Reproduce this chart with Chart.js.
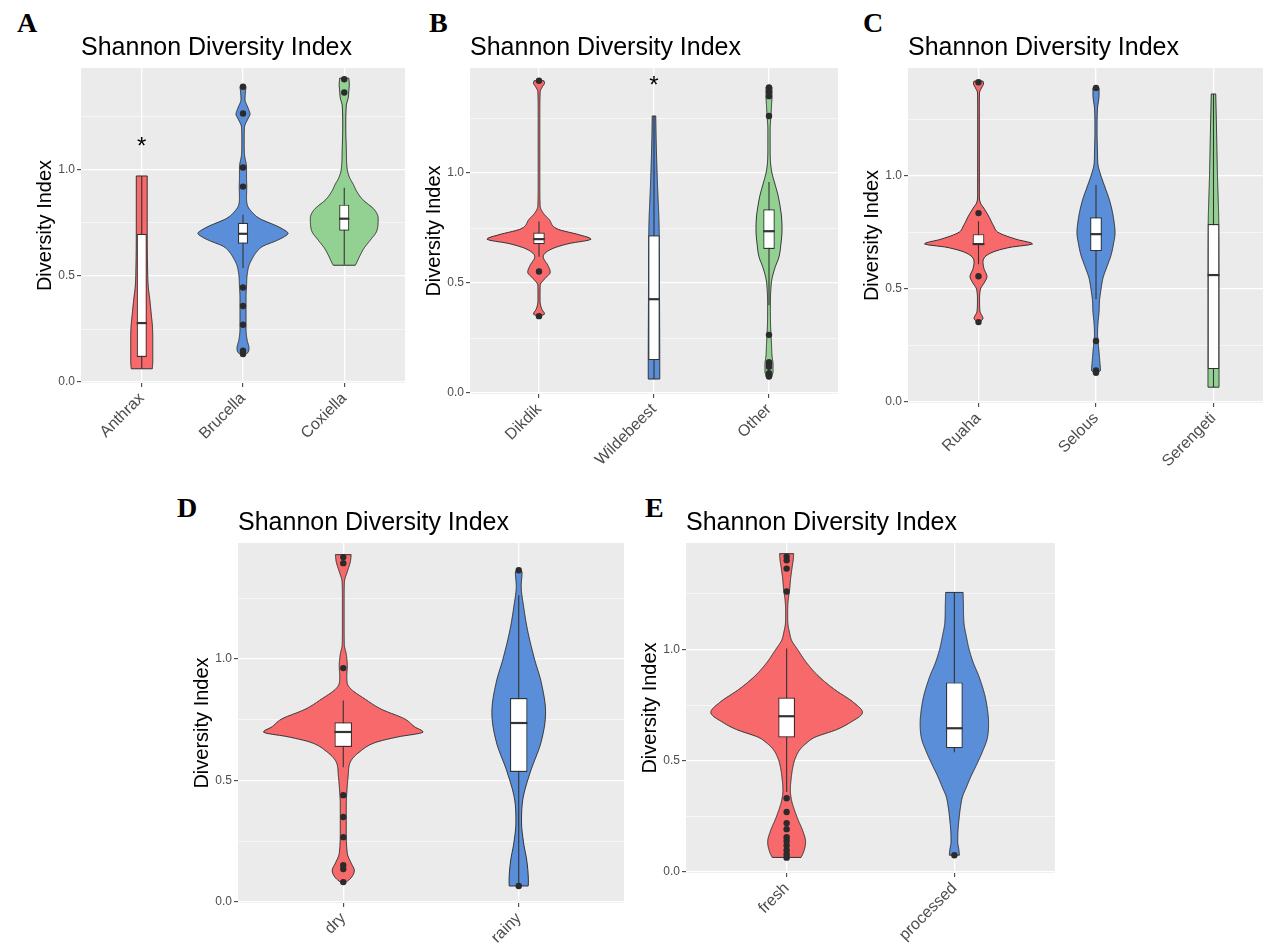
<!DOCTYPE html>
<html lang="en">
<head>
<meta charset="UTF-8">
<title>Shannon Diversity Index</title>
<script src="https://cdn.jsdelivr.net/npm/chart.js"></script>
<style>
    html, body { margin: 0; padding: 0; background: #fff; overflow: hidden; }
    body { width: 1263px; height: 947px; position: relative; }
    .tag {
        position: absolute;
        font-family: 'Liberation Serif', 'Times New Roman', serif;
        font-weight: bold;
        font-size: 28px;
        line-height: 1;
        color: #000;
    }
</style>
</head>
<body>
<div class="tag" style="left:17px;top:9px">A</div>
<div class="tag" style="left:429px;top:9px">B</div>
<div class="tag" style="left:863px;top:9px">C</div>
<div class="tag" style="left:177px;top:494px">D</div>
<div class="tag" style="left:645px;top:494px">E</div>
<script>
// ---------- data ----------
const Y_MAJOR = [0, 0.5, 1.0];
const Y_GRID = [0, 0.25, 0.5, 0.75, 1.0, 1.25];

// A: pathogen
const A_CATEGORIES = ['Anthrax', 'Brucella', 'Coxiella'];
const A_VIOLIN_Y = [
    [0.063, 0.10, 0.15, 0.20, 0.26, 0.32, 0.39, 0.45, 0.55, 0.70, 0.85, 0.97],
    [0.13, 0.14, 0.16, 0.20, 0.25, 0.30, 0.35, 0.40, 0.45, 0.50, 0.55, 0.58, 0.61, 0.64, 0.665, 0.685, 0.70, 0.715, 0.736, 0.77, 0.80, 0.83, 0.87, 0.92, 0.96, 1.01, 1.07, 1.13, 1.20, 1.24, 1.26, 1.29, 1.33, 1.37, 1.39],
    [0.55, 0.56, 0.60, 0.63, 0.67, 0.71, 0.77, 0.81, 0.86, 0.90, 0.93, 0.96, 1.00, 1.10, 1.20, 1.30, 1.34, 1.37, 1.40, 1.43]
];
const A_VIOLIN_W = [
    [0.104, 0.109, 0.109, 0.109, 0.106, 0.094, 0.079, 0.064, 0.057, 0.054, 0.054, 0.054],
    [0.020, 0.050, 0.059, 0.040, 0.030, 0.030, 0.030, 0.030, 0.035, 0.040, 0.060, 0.090, 0.130, 0.198, 0.327, 0.410, 0.446, 0.410, 0.327, 0.163, 0.089, 0.045, 0.035, 0.037, 0.035, 0.035, 0.015, 0.012, 0.015, 0.050, 0.069, 0.050, 0.020, 0.025, 0.030],
    [0.109, 0.120, 0.160, 0.195, 0.260, 0.320, 0.335, 0.300, 0.180, 0.120, 0.090, 0.055, 0.030, 0.020, 0.015, 0.020, 0.040, 0.045, 0.050, 0.045]
];
const A_WHISKER_LOW = [0.063, 0.537, 0.552];
const A_Q1 = [0.118, 0.651, 0.712];
const A_MEDIAN = [0.278, 0.698, 0.769];
const A_Q3 = [0.698, 0.750, 0.835];
const A_WHISKER_HIGH = [0.97, 0.788, 0.915];
const A_OUTLIERS = [[], [1.39, 1.264, 1.01, 0.92, 0.445, 0.358, 0.27, 0.148, 0.132], [1.425, 1.363]];
const A_STARS = [1.13, null, null];

// B: host
const B_CATEGORIES = ['Dikdik', 'Wildebeest', 'Other'];
const B_VIOLIN_Y = [
    [0.35, 0.36, 0.38, 0.42, 0.49, 0.52, 0.55, 0.58, 0.62, 0.655, 0.68, 0.70, 0.72, 0.745, 0.79, 0.82, 0.85, 0.95, 1.10, 1.25, 1.37, 1.39, 1.41, 1.42],
    [0.064, 0.15, 0.45, 0.72, 0.97, 1.12, 1.26],
    [0.075, 0.10, 0.13, 0.17, 0.22, 0.27, 0.32, 0.40, 0.48, 0.52, 0.57, 0.62, 0.68, 0.74, 0.80, 0.85, 0.90, 0.95, 1.00, 1.05, 1.12, 1.20, 1.26, 1.31, 1.35, 1.39]
];
const B_VIOLIN_W = [
    [0.013, 0.048, 0.026, 0.009, 0.010, 0.050, 0.098, 0.078, 0.037, 0.109, 0.261, 0.452, 0.348, 0.165, 0.087, 0.035, 0.010, 0.007, 0.007, 0.007, 0.010, 0.026, 0.048, 0.043],
    [0.050, 0.050, 0.048, 0.046, 0.029, 0.020, 0.015],
    [0.026, 0.035, 0.035, 0.026, 0.022, 0.017, 0.013, 0.012, 0.017, 0.026, 0.052, 0.087, 0.104, 0.113, 0.109, 0.096, 0.078, 0.052, 0.026, 0.013, 0.010, 0.010, 0.017, 0.022, 0.026, 0.026]
];
const B_WHISKER_LOW = [0.62, 0.064, 0.40];
const B_Q1 = [0.677, 0.15, 0.655];
const B_MEDIAN = [0.70, 0.427, 0.736];
const B_Q3 = [0.73, 0.718, 0.836];
const B_WHISKER_HIGH = [0.78, 1.26, 0.96];
const B_OUTLIERS = [[1.42, 0.553, 0.35], [], [1.39, 1.37, 1.35, 1.26, 0.265, 0.14, 0.13, 0.12, 0.09, 0.075]];
const B_STARS = [null, 1.42, null];

// C: park
const C_CATEGORIES = ['Ruaha', 'Selous', 'Serengeti'];
const C_VIOLIN_Y = [
    [0.355, 0.37, 0.40, 0.45, 0.50, 0.53, 0.555, 0.59, 0.62, 0.66, 0.685, 0.70, 0.72, 0.75, 0.78, 0.82, 0.86, 0.88, 0.92, 1.10, 1.30, 1.37, 1.39, 1.41, 1.42],
    [0.13, 0.14, 0.17, 0.22, 0.27, 0.30, 0.35, 0.40, 0.45, 0.50, 0.55, 0.60, 0.65, 0.70, 0.75, 0.80, 0.85, 0.90, 0.95, 1.00, 1.05, 1.10, 1.20, 1.30, 1.36, 1.39],
    [0.066, 0.146, 0.50, 0.79, 1.0, 1.20, 1.363]
];
const C_VIOLIN_W = [
    [0.013, 0.038, 0.013, 0.009, 0.017, 0.051, 0.072, 0.047, 0.038, 0.106, 0.272, 0.460, 0.323, 0.170, 0.128, 0.089, 0.043, 0.017, 0.007, 0.007, 0.007, 0.009, 0.026, 0.043, 0.038],
    [0.017, 0.038, 0.034, 0.026, 0.017, 0.013, 0.017, 0.026, 0.030, 0.043, 0.060, 0.094, 0.128, 0.149, 0.162, 0.153, 0.136, 0.111, 0.077, 0.043, 0.017, 0.013, 0.009, 0.013, 0.026, 0.026],
    [0.047, 0.047, 0.047, 0.045, 0.034, 0.026, 0.019]
];
const C_WHISKER_LOW = [0.61, 0.456, 0.066];
const C_Q1 = [0.695, 0.667, 0.146];
const C_MEDIAN = [0.699, 0.743, 0.562];
const C_Q3 = [0.743, 0.818, 0.788];
const C_WHISKER_HIGH = [0.80, 0.96, 1.363];
const C_OUTLIERS = [[1.415, 0.836, 0.557, 0.354], [1.39, 0.27, 0.14, 0.13], []];
const C_STARS = [null, null, null];

// D: season
const D_CATEGORIES = ['dry', 'rainy'];
const D_VIOLIN_Y = [
    [0.082, 0.10, 0.13, 0.16, 0.20, 0.30, 0.40, 0.45, 0.52, 0.576, 0.617, 0.658, 0.68, 0.70, 0.72, 0.753, 0.794, 0.835, 0.876, 0.90, 0.93, 0.97, 1.02, 1.06, 1.15, 1.25, 1.32, 1.36, 1.40, 1.43],
    [0.066, 0.082, 0.165, 0.247, 0.33, 0.425, 0.535, 0.66, 0.78, 0.905, 1.00, 1.12, 1.22, 1.30, 1.358, 1.366]
];
const D_VIOLIN_W = [
    [0.017, 0.045, 0.063, 0.045, 0.023, 0.017, 0.017, 0.020, 0.028, 0.040, 0.091, 0.188, 0.313, 0.455, 0.409, 0.352, 0.216, 0.125, 0.045, 0.023, 0.020, 0.023, 0.017, 0.006, 0.005, 0.005, 0.007, 0.023, 0.040, 0.045],
    [0.054, 0.055, 0.047, 0.027, 0.016, 0.024, 0.066, 0.128, 0.153, 0.128, 0.090, 0.050, 0.027, 0.014, 0.019, 0.011]
];
const D_WHISKER_LOW = [0.555, 0.066];
const D_Q1 = [0.638, 0.535];
const D_MEDIAN = [0.70, 0.737];
const D_Q3 = [0.74, 0.84];
const D_WHISKER_HIGH = [0.83, 1.263];
const D_OUTLIERS = [[1.42, 1.395, 0.963, 0.44, 0.35, 0.267, 0.152, 0.136, 0.082], [1.366, 0.066]];
const D_STARS = [null, null];

// E: sample state
const E_CATEGORIES = ['fresh', 'processed'];
const E_VIOLIN_Y = [
    [0.066, 0.09, 0.135, 0.19, 0.23, 0.28, 0.32, 0.37, 0.42, 0.475, 0.51, 0.55, 0.58, 0.605, 0.64, 0.67, 0.717, 0.762, 0.82, 0.88, 0.94, 1.00, 1.04, 1.076, 1.12, 1.17, 1.22, 1.27, 1.32, 1.37, 1.40, 1.43],
    [0.076, 0.10, 0.135, 0.18, 0.24, 0.29, 0.34, 0.38, 0.43, 0.48, 0.54, 0.60, 0.67, 0.72, 0.79, 0.88, 0.94, 1.00, 1.06, 1.12, 1.20, 1.256]
];
const E_VIOLIN_W = [
    [0.086, 0.101, 0.113, 0.094, 0.071, 0.046, 0.030, 0.022, 0.027, 0.038, 0.051, 0.079, 0.119, 0.167, 0.298, 0.375, 0.452, 0.399, 0.286, 0.190, 0.119, 0.065, 0.030, 0.017, 0.007, 0.006, 0.009, 0.018, 0.024, 0.033, 0.039, 0.042],
    [0.030, 0.027, 0.020, 0.021, 0.028, 0.036, 0.049, 0.071, 0.099, 0.131, 0.167, 0.196, 0.204, 0.199, 0.183, 0.146, 0.113, 0.088, 0.071, 0.057, 0.054, 0.052]
];
const E_WHISKER_LOW = [0.36, 0.538];
const E_Q1 = [0.605, 0.556];
const E_MEDIAN = [0.70, 0.646];
const E_Q3 = [0.784, 0.852];
const E_WHISKER_HIGH = [1.004, 1.256];
const E_OUTLIERS = [[1.417, 1.40, 1.363, 1.26, 0.332, 0.27, 0.22, 0.193, 0.157, 0.14, 0.12, 0.098, 0.08, 0.065], [0.076]];
const E_STARS = [null, null];

// ---------- styles ----------
const FONT = "'Liberation Sans', Arial, sans-serif";
const RED = '#F8696B', BLUE = '#5B8ED8', GREEN = '#93D192';
const PANEL_BG = '#EBEBEB';
const LINE = '#333333';
const TICK_TEXT = '#4D4D4D';
const Y_MIN = -0.004, Y_MAX = 1.478;

// plot area of every panel, in page pixels
const PANELS = [
    { id: 'A', area: { l: 81, t: 68, r: 405, b: 383 }, cats: A_CATEGORIES, vy: A_VIOLIN_Y, vw: A_VIOLIN_W,
      lo: A_WHISKER_LOW, q1: A_Q1, med: A_MEDIAN, q3: A_Q3, hi: A_WHISKER_HIGH, outliers: A_OUTLIERS, stars: A_STARS,
      colors: [RED, BLUE, GREEN] },
    { id: 'B', area: { l: 470, t: 68, r: 838, b: 394 }, cats: B_CATEGORIES, vy: B_VIOLIN_Y, vw: B_VIOLIN_W,
      lo: B_WHISKER_LOW, q1: B_Q1, med: B_MEDIAN, q3: B_Q3, hi: B_WHISKER_HIGH, outliers: B_OUTLIERS, stars: B_STARS,
      colors: [RED, BLUE, GREEN] },
    { id: 'C', area: { l: 908, t: 68, r: 1284, b: 403 }, cats: C_CATEGORIES, vy: C_VIOLIN_Y, vw: C_VIOLIN_W,
      lo: C_WHISKER_LOW, q1: C_Q1, med: C_MEDIAN, q3: C_Q3, hi: C_WHISKER_HIGH, outliers: C_OUTLIERS, stars: C_STARS,
      colors: [RED, BLUE, GREEN] },
    { id: 'D', area: { l: 238, t: 543, r: 624, b: 903 }, cats: D_CATEGORIES, vy: D_VIOLIN_Y, vw: D_VIOLIN_W,
      lo: D_WHISKER_LOW, q1: D_Q1, med: D_MEDIAN, q3: D_Q3, hi: D_WHISKER_HIGH, outliers: D_OUTLIERS, stars: D_STARS,
      colors: [RED, BLUE] },
    { id: 'E', area: { l: 686, t: 543, r: 1055, b: 873 }, cats: E_CATEGORIES, vy: E_VIOLIN_Y, vw: E_VIOLIN_W,
      lo: E_WHISKER_LOW, q1: E_Q1, med: E_MEDIAN, q3: E_Q3, hi: E_WHISKER_HIGH, outliers: E_OUTLIERS, stars: E_STARS,
      colors: [RED, BLUE] }
];

// monotone cubic through the read widths so the outline stays smooth without overshoot
function monotone(xs, ys) {
    const n = xs.length, d = [], m = [];
    for (let i = 0; i < n - 1; i++) d[i] = (ys[i + 1] - ys[i]) / (xs[i + 1] - xs[i]);
    m[0] = d[0]; m[n - 1] = d[n - 2];
    for (let i = 1; i < n - 1; i++) m[i] = d[i - 1] * d[i] <= 0 ? 0 : (d[i - 1] + d[i]) / 2;
    for (let i = 0; i < n - 1; i++) {
        if (d[i] === 0) { m[i] = 0; m[i + 1] = 0; continue; }
        const a = m[i] / d[i], b = m[i + 1] / d[i], s = a * a + b * b;
        if (s > 9) { const t = 3 / Math.sqrt(s); m[i] = t * a * d[i]; m[i + 1] = t * b * d[i]; }
    }
    return function (x) {
        let i = 0;
        while (i < n - 2 && x > xs[i + 1]) i++;
        const h = xs[i + 1] - xs[i], t = (x - xs[i]) / h;
        const t2 = t * t, t3 = t2 * t;
        return (2 * t3 - 3 * t2 + 1) * ys[i] + (t3 - 2 * t2 + t) * h * m[i]
            + (-2 * t3 + 3 * t2) * ys[i + 1] + (t3 - t2) * h * m[i + 1];
    };
}

function drawViolin(ctx, xScale, yScale, cx, vy, vw, fill) {
    const f = monotone(vy, vw);
    const y0 = vy[0], y1 = vy[vy.length - 1];
    const steps = Math.max(8, Math.ceil(yScale.getPixelForValue(y0) - yScale.getPixelForValue(y1)));
    const right = [], left = [];
    for (let k = 0; k <= steps; k++) {
        const v = y0 + (y1 - y0) * k / steps;
        const w = Math.max(f(v), 0.004);
        const py = yScale.getPixelForValue(v);
        right.push([xScale.getPixelForValue(cx + w), py]);
        left.push([xScale.getPixelForValue(cx - w), py]);
    }
    ctx.beginPath();
    ctx.moveTo(right[0][0], right[0][1]);
    right.forEach(pt => ctx.lineTo(pt[0], pt[1]));
    for (let k = left.length - 1; k >= 0; k--) ctx.lineTo(left[k][0], left[k][1]);
    ctx.closePath();
    ctx.fillStyle = fill;
    ctx.fill();
    ctx.lineWidth = 1;
    ctx.lineJoin = 'round';
    ctx.strokeStyle = LINE;
    ctx.stroke();
}

function violinPlugin(p) {
    return {
        id: 'violin' + p.id,
        beforeDraw(chart) {
            const { ctx, chartArea: a } = chart;
            ctx.save();
            ctx.fillStyle = PANEL_BG;
            ctx.fillRect(a.left, a.top, a.right - a.left, a.bottom - a.top);
            ctx.restore();
        },
        beforeDatasetsDraw(chart) {
            const { ctx, chartArea: a, scales: { x, y } } = chart;
            ctx.save();
            ctx.beginPath();
            ctx.rect(a.left, a.top, a.right - a.left, a.bottom - a.top);
            ctx.clip();
            p.cats.forEach((c, i) => drawViolin(ctx, x, y, i + 1, p.vy[i], p.vw[i], p.colors[i]));
            // whiskers, later covered by the box
            ctx.strokeStyle = LINE;
            ctx.lineWidth = 1.1;
            p.cats.forEach((c, i) => {
                const px = x.getPixelForValue(i + 1);
                ctx.beginPath();
                ctx.moveTo(px, y.getPixelForValue(p.lo[i]));
                ctx.lineTo(px, y.getPixelForValue(p.hi[i]));
                ctx.stroke();
            });
            ctx.restore();
        },
        afterDatasetDraw(chart, args) {
            if (args.meta.type !== 'bar') return;
            const { ctx, scales: { x, y } } = chart;
            ctx.save();
            ctx.strokeStyle = LINE;
            ctx.lineWidth = 2.2;
            p.cats.forEach((c, i) => {
                const py = y.getPixelForValue(p.med[i]);
                ctx.beginPath();
                ctx.moveTo(x.getPixelForValue(i + 1 - 0.05), py);
                ctx.lineTo(x.getPixelForValue(i + 1 + 0.05), py);
                ctx.stroke();
            });
            ctx.restore();
        },
        afterDatasetsDraw(chart) {
            const { ctx, scales: { x, y } } = chart;
            ctx.save();
            ctx.fillStyle = '#000';
            ctx.font = '24px ' + FONT;
            ctx.textAlign = 'center';
            ctx.textBaseline = 'alphabetic';
            p.stars.forEach((v, i) => {
                if (v === null) return;
                const m = ctx.measureText('*');
                const mid = (m.actualBoundingBoxAscent - m.actualBoundingBoxDescent) / 2;
                ctx.fillText('*', x.getPixelForValue(i + 1), y.getPixelForValue(v) + mid);
            });
            ctx.restore();
        }
    };
}

function makePanel(p) {
    const pad = { left: 80, top: 62, right: 6, bottom: 90 };
    const w = (p.area.r - p.area.l) + pad.left + pad.right;
    const h = (p.area.b - p.area.t) + pad.top + pad.bottom;
    const canvas = document.createElement('canvas');
    canvas.width = w;
    canvas.height = h;
    canvas.style.cssText = 'position:absolute;left:' + (p.area.l - pad.left) + 'px;top:' + (p.area.t - pad.top) +
        'px;width:' + w + 'px;height:' + h + 'px';
    document.body.appendChild(canvas);

    const xs = p.cats.map((c, i) => i + 1);
    const boxData = xs.map((x, i) => ({ x: x, y: [p.q1[i], p.q3[i]] }));
    const pointData = [];
    p.outliers.forEach((arr, i) => arr.forEach(v => pointData.push({ x: i + 1, y: v })));

    new Chart(canvas, {
        type: 'bar',
        data: {
            datasets: [
                { type: 'scatter', data: pointData, order: 0, pointRadius: 3.2, pointHoverRadius: 3.2,
                  backgroundColor: '#2B2B2B', borderWidth: 0 },
                { type: 'bar', data: boxData, order: 1, backgroundColor: '#FFFFFF', borderColor: LINE,
                  borderWidth: 1.2, borderSkipped: false, barPercentage: 0.1, categoryPercentage: 1, grouped: false }
            ]
        },
        options: {
            responsive: false,
            animation: false,
            events: [],
            layout: { padding: { left: 8, right: pad.right, top: 0, bottom: 0 } },
            plugins: {
                legend: { display: false },
                tooltip: { enabled: false },
                title: {
                    display: true, text: 'Shannon Diversity Index', align: 'start', fullSize: false,
                    color: '#000', font: { family: FONT, size: 25, weight: 'normal' },
                    padding: { top: 27, bottom: 5 }
                }
            },
            scales: {
                x: {
                    type: 'linear', min: 0.4, max: p.cats.length + 0.6, offset: false,
                    afterBuildTicks: s => { s.ticks = xs.map(v => ({ value: v })); },
                    afterFit: s => { s.height = pad.bottom; },
                    ticks: {
                        callback: v => p.cats[Math.round(v) - 1],
                        autoSkip: false, maxRotation: 45, minRotation: 45,
                        color: TICK_TEXT, font: { family: FONT, size: 16 }, padding: 2
                    },
                    grid: { color: '#FFFFFF', lineWidth: 1.3, offset: false, drawTicks: true,
                            tickLength: 4, tickColor: LINE, tickWidth: 1 },
                    border: { display: false }
                },
                y: {
                    min: Y_MIN, max: Y_MAX,
                    afterBuildTicks: s => { s.ticks = Y_GRID.map(v => ({ value: v })); },
                    afterFit: s => { s.width = pad.left - 8; },
                    ticks: {
                        callback: v => Y_MAJOR.includes(v) ? v.toFixed(1) : '',
                        color: TICK_TEXT, font: { family: FONT, size: 12 }, padding: 2
                    },
                    grid: {
                        color: '#FFFFFF',
                        lineWidth: c => Y_MAJOR.includes(c.tick.value) ? 1.3 : 0.6,
                        tickColor: c => Y_MAJOR.includes(c.tick.value) ? LINE : 'rgba(0,0,0,0)',
                        tickLength: 4, tickWidth: 1
                    },
                    border: { display: false },
                    title: {
                        display: true, text: 'Diversity Index', color: '#000',
                        font: { family: FONT, size: 20 }, padding: { top: 24, bottom: 0 }
                    }
                }
            }
        },
        plugins: [violinPlugin(p)]
    });
}

PANELS.forEach(makePanel);
</script>
</body>
</html>
